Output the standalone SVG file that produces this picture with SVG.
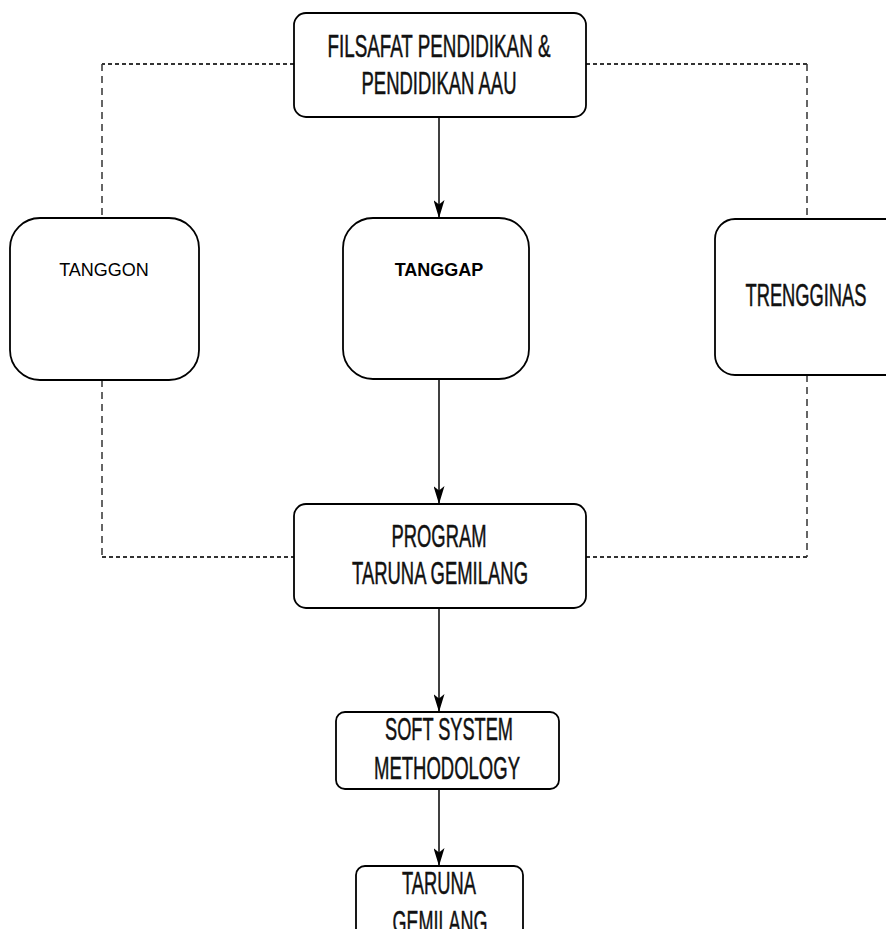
<svg xmlns="http://www.w3.org/2000/svg" width="886" height="939" viewBox="0 0 886 939">
<style>
.box{fill:#fff;stroke:#000;stroke-width:1.8}
.n{font-family:"Liberation Sans Narrow","Liberation Sans",Arial,sans-serif;font-size:31px;fill:#111;stroke:#111;stroke-width:0.5;text-anchor:middle}
.a{font-family:"Liberation Sans",Arial,sans-serif;font-size:18px;fill:#000;text-anchor:middle}
.dh{fill:none;stroke:#333;stroke-width:2;stroke-dasharray:4,3}
.dv{fill:none;stroke:#333;stroke-width:1.5;stroke-dasharray:7,5}
.ar{fill:none;stroke:#000;stroke-width:1.5}
</style>
<defs>
<marker id="arr" markerWidth="18" markerHeight="11" refX="20" refY="6" orient="auto" markerUnits="userSpaceOnUse" viewBox="0 0 20 12" preserveAspectRatio="none">
<path d="M0,0 L20,6 L0,12 L5,6 Z" fill="#000"/>
</marker>
<clipPath id="cut"><rect x="0" y="0" width="886" height="929"/></clipPath>
</defs>
<rect width="886" height="939" fill="#fff"/>
<g id="connectors">
<path class="dh" d="M294,64 H102"/>
<path class="dv" d="M102,64 V218"/>
<path class="dh" d="M586,64 H807"/>
<path class="dv" d="M807,64 V219"/>
<path class="dv" d="M102,380 V557"/>
<path class="dh" d="M102,557 H294"/>
<path class="dv" d="M807,375 V557"/>
<path class="dh" d="M807,557 H586"/>
<path class="ar" d="M439,117 V218" marker-end="url(#arr)"/>
<path class="ar" d="M439,379 V504" marker-end="url(#arr)"/>
<path class="ar" d="M439,608 V712" marker-end="url(#arr)"/>
<path class="ar" d="M439,789 V866" marker-end="url(#arr)"/>
</g>
<g id="filsafat">
<rect class="box" x="294" y="13" width="292" height="104" rx="12"/>
<text class="n" x="439" y="57" textLength="223" lengthAdjust="spacingAndGlyphs">FILSAFAT PENDIDIKAN &amp;</text>
<text class="n" x="439" y="94" textLength="155" lengthAdjust="spacingAndGlyphs">PENDIDIKAN AAU</text>
</g>
<g id="tanggon">
<rect class="box" x="10" y="218" width="189" height="162" rx="30"/>
<text class="a" x="104" y="276">TANGGON</text>
</g>
<g id="tanggap">
<rect class="box" x="343" y="218" width="186" height="161" rx="30"/>
<text class="a" x="439" y="276" font-weight="bold">TANGGAP</text>
</g>
<g id="trengginas">
<rect class="box" x="715" y="219" width="200" height="156" rx="20"/>
<text class="n" x="806" y="306" textLength="121" lengthAdjust="spacingAndGlyphs">TRENGGINAS</text>
</g>
<g id="program">
<rect class="box" x="294" y="504" width="292" height="104" rx="12"/>
<text class="n" x="439" y="547" textLength="95" lengthAdjust="spacingAndGlyphs">PROGRAM</text>
<text class="n" x="440" y="584" textLength="176" lengthAdjust="spacingAndGlyphs">TARUNA GEMILANG</text>
</g>
<g id="ssm">
<rect class="box" x="336" y="712" width="223" height="77" rx="9"/>
<text class="n" x="449" y="740" textLength="128" lengthAdjust="spacingAndGlyphs">SOFT SYSTEM</text>
<text class="n" x="447" y="779" textLength="146" lengthAdjust="spacingAndGlyphs">METHODOLOGY</text>
</g>
<g id="taruna" clip-path="url(#cut)">
<rect class="box" x="356" y="866" width="167" height="110" rx="9"/>
<text class="n" x="439" y="894" textLength="74" lengthAdjust="spacingAndGlyphs">TARUNA</text>
<text class="n" x="440" y="933" textLength="95" lengthAdjust="spacingAndGlyphs">GEMILANG</text>
</g>
</svg>
